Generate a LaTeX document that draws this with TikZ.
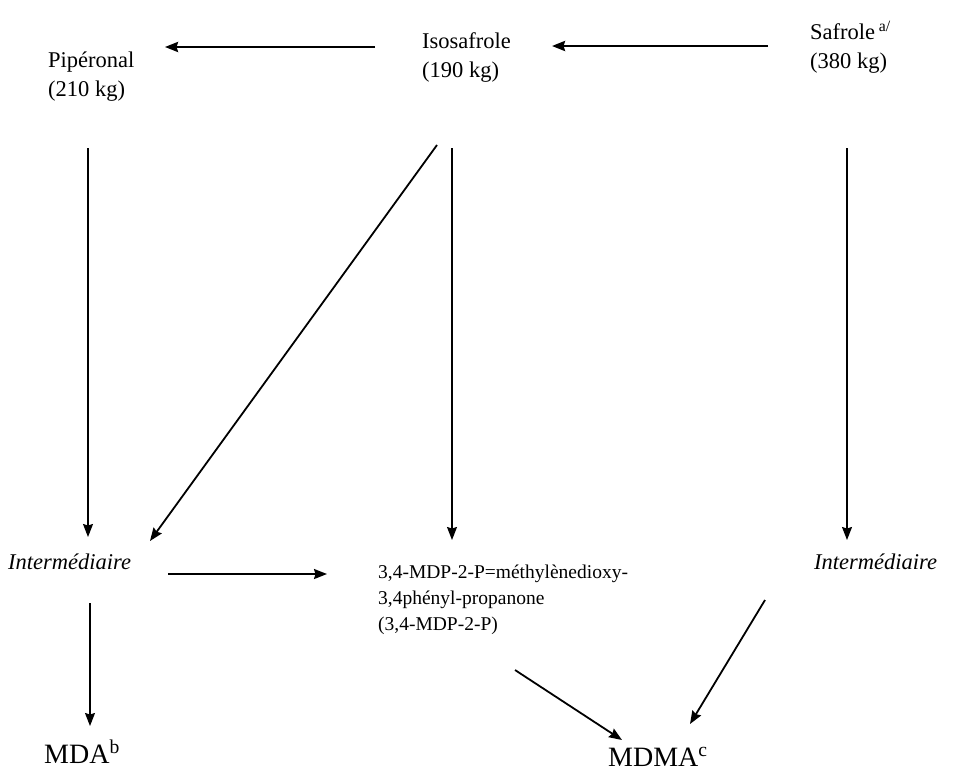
\documentclass[tikz,border=0pt]{standalone}
\usepackage{fontspec}
\setmainfont{Liberation Serif}
\usetikzlibrary{arrows.meta}
\begin{document}
\begin{tikzpicture}[x=1pt,y=-1pt,
  lbl/.style={font=\fontsize{22.5}{29}\selectfont, align=left, inner sep=0pt, anchor=base west},
  itl/.style={font=\fontsize{22.5}{26}\selectfont\itshape, inner sep=0pt, anchor=base west},
  big/.style={font=\fontsize{28}{30}\selectfont, inner sep=0pt, anchor=base west},
  mdp/.style={font=\fontsize{19.5}{26}\selectfont, align=left, inner sep=0pt, anchor=base west},
  arr/.style={-{Stealth[length=13pt,width=10pt,inset=1.5pt]}, line width=1.2pt},
  harr/.style={arr, line width=2.4pt},
  darr/.style={arr, line width=1.8pt}]
\useasboundingbox (0,0) rectangle (957,771);

% nodes (anchored at the baseline of their last line)
\node[lbl] (pip) at (48,96) {Pipéronal\\(210 kg)};
\node[lbl] (iso) at (422,77) {Isosafrole\\(190 kg)};
\node[lbl] (saf) at (810,68) {Safrole\,\textsuperscript{a/}\\(380 kg)};
\node[itl] (intl) at (8,569) {Intermédiaire};
\node[mdp] (mdp) at (378,630) {3,4-MDP-2-P=méthylènedioxy-\\3,4phényl-propanone\\(3,4-MDP-2-P)};
\node[itl] (intr) at (814,569) {Intermédiaire};
\node[big] (mda) at (44,763) {MDA\textsuperscript{b}};
\node[big] (mdma) at (608,766) {MDMA\textsuperscript{c}};

% connector end points
\coordinate (isoL) at (375,47);   \coordinate (pipR) at (165,47);
\coordinate (safL) at (768,46);   \coordinate (isoR) at (552,46);
\coordinate (pipD) at (88,148);   \coordinate (intlU) at (88,537);
\coordinate (isoD) at (452,148);  \coordinate (mdpU) at (452,540);
\coordinate (safD) at (847,148);  \coordinate (intrU) at (847,540);
\coordinate (isoDg) at (437,145); \coordinate (intlDg) at (150,541);
\coordinate (intlR) at (168,574); \coordinate (mdpL) at (327,574);
\coordinate (intlD) at (90,603);  \coordinate (mdaU) at (90,726);
\coordinate (mdpD) at (515,670);  \coordinate (mdmaL) at (622,740);
\coordinate (intrD) at (765,600); \coordinate (mdmaR) at (690,724);

% connectors
\draw[harr] (isoL) -- (pipR);
\draw[harr] (safL) -- (isoR);
\draw[arr] (pipD) -- (intlU);
\draw[arr] (isoD) -- (mdpU);
\draw[arr] (safD) -- (intrU);
\draw[darr] (isoDg) -- (intlDg);
\draw[arr, line width=2pt] (intlR) -- (mdpL);
\draw[arr] (intlD) -- (mdaU);
\draw[darr] (mdpD) -- (mdmaL);
\draw[darr] (intrD) -- (mdmaR);
\end{tikzpicture}
\end{document}
